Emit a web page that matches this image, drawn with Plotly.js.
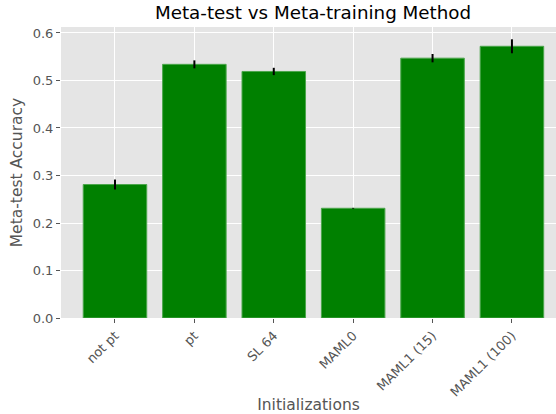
<!DOCTYPE html>
<html>
<head>
<meta charset="utf-8">
<script src="https://cdn.plot.ly/plotly-3.0.1.min.js"></script>
<style>html,body{margin:0;padding:0;background:#fff;}#chart{width:556px;height:414px;}</style>
</head>
<body>
<div id="chart"></div>
<script>
const categories = ["not pt", "pt", "SL 64", "MAML0", "MAML1 (15)", "MAML1 (100)"];
const accuracy = [0.281, 0.534, 0.519, 0.231, 0.547, 0.572];
const errors = [0.0105, 0.0084, 0.0077, 0.0008, 0.0088, 0.0147];
const yTicks = [0.0, 0.1, 0.2, 0.3, 0.4, 0.5, 0.6];
const yTickText = ["0.0", "0.1", "0.2", "0.3", "0.4", "0.5", "0.6"];

const xIdx = categories.map((c, i) => i);

const trace = {
  type: 'bar',
  x: xIdx,
  y: accuracy,
  width: 0.8,
  marker: { color: '#008000', line: { color: '#4ca64c', width: 1 } },
  error_y: { type: 'data', array: errors, visible: true, color: '#000000', thickness: 2, width: 0 },
  hoverinfo: 'skip'
};

const fam = 'DejaVu Sans, sans-serif';

const layout = {
  width: 556, height: 414,
  margin: { l: 61, r: 0, t: 27, b: 96 },
  paper_bgcolor: '#ffffff',
  plot_bgcolor: '#E5E5E5',
  showlegend: false,
  font: { family: fam },
  title: { text: 'Meta-test vs Meta-training Method', font: { family: fam, size: 18.3, color: '#000000' }, x: 0.563, xanchor: 'center', y: 0.97, yanchor: 'middle' },
  xaxis: {
    range: [-0.68, 5.555],
    tickmode: 'array', tickvals: xIdx, ticktext: categories,
    tickangle: -45,
    tickfont: { family: fam, size: 13, color: '#555555' },
    ticks: 'outside', ticklen: 4, tickwidth: 1, tickcolor: '#555555',
    showgrid: true, gridcolor: '#ffffff', gridwidth: 1,
    zeroline: false, showline: false,
    title: { text: 'Initializations', font: { family: fam, size: 15.5, color: '#555555' }, standoff: 6 }
  },
  yaxis: {
    range: [0, 0.6126],
    tickmode: 'array', tickvals: yTicks, ticktext: yTickText,
    tickfont: { family: fam, size: 13, color: '#555555' },
    ticks: 'outside', ticklen: 4, tickwidth: 1, tickcolor: '#555555',
    showgrid: true, gridcolor: '#ffffff', gridwidth: 1,
    zeroline: false, showline: false,
    title: { text: 'Meta-test Accuracy', font: { family: fam, size: 15.5, color: '#555555' }, standoff: 6 }
  }
};

Plotly.newPlot('chart', [trace], layout, { displayModeBar: false, staticPlot: true });
</script>
</body>
</html>
